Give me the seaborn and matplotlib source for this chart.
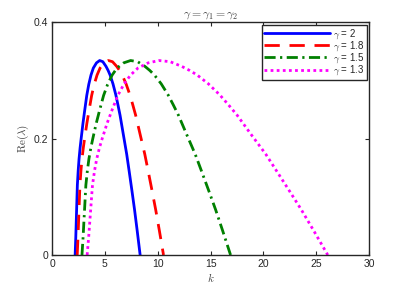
import numpy as np
import pandas as pd
import matplotlib
matplotlib.use("Agg")
import matplotlib.pyplot as plt
import seaborn as sns

# Data
re_lambda = [0.0, 0.03, 0.06, 0.09, 0.12, 0.145, 0.165, 0.184, 0.200, 0.226,
             0.249, 0.274, 0.293, 0.309, 0.321, 0.330, 0.334, 0.332, 0.324, 0.317,
             0.309, 0.294, 0.275, 0.258, 0.240, 0.206, 0.173, 0.143, 0.111, 0.078,
             0.042, 0.0]
k_g20 = [2.18, 2.24, 2.29, 2.34, 2.39, 2.47, 2.55, 2.65, 2.75, 2.92,
         3.09, 3.28, 3.47, 3.68, 3.90, 4.20, 4.50, 4.80, 5.10, 5.30,
         5.49, 5.76, 6.03, 6.23, 6.43, 6.75, 7.06, 7.30, 7.55, 7.80,
         8.05, 8.33]
k_g18 = [2.377, 2.450, 2.511, 2.572, 2.633, 2.731, 2.830, 2.953, 3.077, 3.289,
         3.503, 3.743, 3.985, 4.253, 4.537, 4.926, 5.319, 5.714, 6.112, 6.379,
         6.634, 6.997, 7.363, 7.634, 7.907, 8.345, 8.772, 9.104, 9.451, 9.800,
         10.149, 10.542]
k_g15 = [2.827, 2.931, 3.018, 3.107, 3.195, 3.339, 3.484, 3.667, 3.853, 4.174,
         4.501, 4.873, 5.253, 5.681, 6.139, 6.776, 7.429, 8.097, 8.779, 9.241,
         9.685, 10.325, 10.976, 11.463, 11.957, 12.757, 13.544, 14.161, 14.811, 15.469,
         16.133, 16.886]
k_g13 = [3.317, 3.458, 3.578, 3.699, 3.821, 4.019, 4.221, 4.479, 4.741, 5.200,
         5.673, 6.218, 6.781, 7.422, 8.116, 9.096, 10.114, 11.170, 12.262, 13.010,
         13.734, 14.787, 15.867, 16.684, 17.515, 18.873, 20.224, 21.290, 22.423, 23.575,
         24.747, 26.084]

labels = [r"$\gamma$ = 2", r"$\gamma$ = 1.8", r"$\gamma$ = 1.5", r"$\gamma$ = 1.3"]
colors = ["#0000ff", "#ff0000", "#008000", "#ff00ff"]
dashes = [None, (5.5, 3.5), (4, 1.6, 0.8, 1.6), (1, 1.2)]
x_ticks = [0, 5, 10, 15, 20, 25, 30]
y_ticks = [0, 0.2, 0.4]

sns.set_style("ticks")
plt.rcParams["font.family"] = ["Liberation Sans", "DejaVu Sans"]
plt.rcParams["mathtext.fontset"] = "cm"

fig = plt.figure(figsize=(4.07, 2.87), dpi=100)
ax = fig.add_axes([0.128, 0.1115, 0.779, 0.8115])

for kx, lab, col, ds in zip([k_g20, k_g18, k_g15, k_g13], labels, colors, dashes):
    df = pd.DataFrame({"k": kx, "re": re_lambda})
    sns.lineplot(data=df, x="k", y="re", ax=ax, color=col, linewidth=2.0,
                 label=lab, sort=False, estimator=None)
    l = ax.lines[-1]
    l.set_solid_joinstyle("round")
    if ds is not None:
        l.set_dashes(ds)
        l.set_dash_capstyle("butt")

ax.set_xlim(0, 30)
ax.set_ylim(0, 0.4)
ax.set_xticks(x_ticks)
ax.set_yticks(y_ticks)
ax.set_xticklabels([str(t) for t in x_ticks])
ax.set_yticklabels(["0", "0.2", "0.4"])
ax.tick_params(direction="in", top=True, right=True, length=3, width=0.8,
               labelsize=7.5, colors="#262626", pad=3)
for s in ax.spines.values():
    s.set_linewidth(1.0)
    s.set_color("#262626")
    s.set_visible(True)

ax.set_xlabel(r"$k$", fontsize=8, color="#404040", labelpad=1)
ax.set_ylabel(r"$\mathrm{Re}(\lambda)$", fontsize=8, color="#404040", labelpad=2)
ax.set_title(r"$\gamma = \gamma_1 = \gamma_2$", fontsize=8.5, color="#404040", pad=4)

leg = ax.legend(loc="upper right", fontsize=7, frameon=True, fancybox=False,
                handlelength=6.8, handletextpad=0.3, labelspacing=-0.15,
                borderpad=0.25, borderaxespad=0.25)
leg.get_frame().set_edgecolor("#262626")
leg.get_frame().set_linewidth(1.0)
leg.get_frame().set_alpha(1)

fig.savefig("out.png", dpi=100)
